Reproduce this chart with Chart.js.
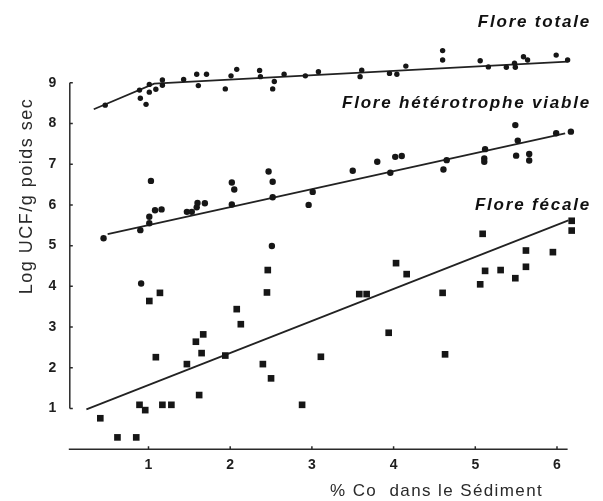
<!DOCTYPE html>
<html><head><meta charset="utf-8">
<script src="https://cdn.jsdelivr.net/npm/chart.js@4"></script>
<style>html,body{margin:0;padding:0;background:#fff}canvas{display:block}</style>
</head><body>
<canvas id="c" width="603" height="501"></canvas>
<script>
// ---- Data ----
const totaleX = [0.47,0.89,0.90,0.97,1.01,1.01,1.09,1.17,1.17,1.43,1.59,1.61,1.71,1.94,2.01,2.08,2.36,2.37,2.52,2.54,2.66,2.92,3.08,3.61,3.59,3.95,4.04,4.15,4.60,4.60,5.06,5.16,5.38,5.48,5.49,5.59,5.64,5.99,6.13];
const totaleY = [8.45,8.82,8.62,8.47,8.96,8.77,8.84,9.07,8.94,9.08,9.21,8.93,9.21,8.85,9.17,9.33,9.30,9.15,8.85,9.03,9.21,9.17,9.27,9.31,9.15,9.23,9.21,9.41,9.79,9.56,9.54,9.39,9.38,9.48,9.38,9.64,9.56,9.68,9.56];

const hetX = [0.45,0.90,1.01,1.01,1.03,1.08,1.16,1.47,1.53,1.59,1.60,1.69,2.02,2.02,2.05,2.47,2.52,2.52,2.51,3.01,2.96,0.91,3.50,3.80,3.96,4.02,4.10,4.61,4.65,5.12,5.11,5.11,5.49,5.52,5.50,5.66,5.66,5.99,6.17];
const hetY = [5.18,5.38,5.55,5.71,6.59,5.87,5.89,5.83,5.83,5.94,6.05,6.04,6.01,6.55,6.38,6.82,6.57,6.19,4.99,6.32,6.00,4.07,6.84,7.06,6.79,7.18,7.20,6.87,7.10,7.37,7.14,7.06,7.96,7.58,7.21,7.25,7.09,7.76,7.80];

const fecX = [0.41,0.62,0.85,0.89,0.96,1.01,1.14,1.09,1.17,1.28,1.47,1.58,1.67,1.65,1.62,1.94,2.08,2.13,2.46,2.45,2.40,2.50,2.88,3.11,3.58,3.67,3.94,4.03,4.16,4.60,4.63,5.09,5.06,5.12,5.31,5.49,5.62,5.62,5.95,6.18,6.18];
const fecY = [0.76,0.29,0.29,1.09,0.96,3.64,3.84,2.26,1.09,1.09,2.09,2.64,2.82,2.36,1.33,2.30,3.44,3.07,4.40,3.85,2.09,1.74,1.09,2.27,3.81,3.81,2.86,4.57,4.30,3.84,2.33,5.29,4.05,4.38,4.40,4.20,4.88,4.48,4.84,5.61,5.37];

// regression lines (end points)
const totaleFitX = [0.33,1.07,6.13];
const totaleFitY = [8.35,8.98,9.52];
const hetFitX = [0.50,6.10];
const hetFitY = [5.28,7.76];
const fecFitX = [0.24,6.14];
const fecFitY = [0.98,5.62];

const xTicks = [1,2,3,4,5,6];
const yTicks = [1,2,3,4,5,6,7,8,9];
const xTitle = '% Co  dans le Sédiment';
const yTitle = 'Log UCF/g poids sec';
const seriesNames = ['Flore totale','Flore hétérotrophe viable','Flore fécale'];

const pts = (xs, ys) => xs.map((x, i) => ({x: x, y: ys[i]}));
const INK = '#161616';

const axesPlugin = {
  id: 'axesPlugin',
  beforeDatasetsDraw(chart) {
    const ctx = chart.ctx, xs = chart.scales.x, ys = chart.scales.y;
    ctx.save();
    ctx.strokeStyle = '#2a2a2a';
    ctx.lineWidth = 1.5;
    // y axis (from 1 to 9)
    const ax = xs.getPixelForValue(0) + 3;
    const yTop = ys.getPixelForValue(yTicks[yTicks.length-1]);
    const yBot = ys.getPixelForValue(yTicks[0]);
    ctx.beginPath();
    ctx.moveTo(ax, yTop); ctx.lineTo(ax, yBot);
    yTicks.forEach(v => { const p = ys.getPixelForValue(v); ctx.moveTo(ax, p); ctx.lineTo(ax + 3, p); });
    ctx.stroke();
    // x axis at y = 0
    const ay = ys.getPixelForValue(0);
    ctx.beginPath();
    ctx.moveTo(xs.getPixelForValue(0) + 2, ay);
    ctx.lineTo(xs.getPixelForValue(6.13), ay);
    xTicks.forEach(v => { const p = xs.getPixelForValue(v); ctx.moveTo(p, ay); ctx.lineTo(p, ay - 3); });
    ctx.stroke();

    // tick labels
    ctx.fillStyle = '#1e1e1e';
    ctx.font = 'bold 14px "Liberation Sans", Arial, sans-serif';
    ctx.textAlign = 'center';
    ctx.textBaseline = 'middle';
    yTicks.forEach(v => ctx.fillText(String(v), 52.5, ys.getPixelForValue(v)));
    xTicks.forEach(v => ctx.fillText(String(v), xs.getPixelForValue(v), ay + 16));

    // axis titles
    ctx.fillStyle = '#2a2a2a';
    ctx.font = '17px "Liberation Sans", Arial, sans-serif';
    ctx.letterSpacing = '1.4px';
    ctx.textAlign = 'left';
    ctx.textBaseline = 'alphabetic';
    ctx.fillText(xTitle, 330, 496);

    ctx.save();
    ctx.font = '18px "Liberation Sans", Arial, sans-serif';
    ctx.letterSpacing = '1.5px';
    ctx.translate(31.5, 196);
    ctx.rotate(-Math.PI / 2);
    ctx.textAlign = 'center';
    ctx.fillText(yTitle, 0, 0);
    ctx.restore();

    // series labels
    ctx.fillStyle = '#111';
    ctx.font = 'italic bold 17px "Liberation Sans", Arial, sans-serif';
    ctx.letterSpacing = '1.8px';
    ctx.textAlign = 'left';
    const baselines = [27, 108, 210];
    seriesNames.forEach((s, i) => {
      const w = ctx.measureText(s).width;
      ctx.fillText(s, 591 - w, baselines[i]);
    });
    ctx.restore();
  }
};

new Chart(document.getElementById('c'), {
  type: 'scatter',
  data: {
    datasets: [
      {label: seriesNames[0], data: pts(totaleX, totaleY), pointStyle: 'circle', pointRadius: 2.7, backgroundColor: INK, borderColor: INK, borderWidth: 0},
      {label: seriesNames[1], data: pts(hetX, hetY), pointStyle: 'circle', pointRadius: 3.2, backgroundColor: INK, borderColor: INK, borderWidth: 0},
      {label: seriesNames[2], data: pts(fecX, fecY), pointStyle: 'rect', pointRadius: 4.7, backgroundColor: INK, borderColor: INK, borderWidth: 0},
      {label: 'fit1', data: pts(totaleFitX, totaleFitY), showLine: true, pointRadius: 0, borderColor: '#222', borderWidth: 1.8, fill: false},
      {label: 'fit2', data: pts(hetFitX, hetFitY), showLine: true, pointRadius: 0, borderColor: '#222', borderWidth: 1.8, fill: false},
      {label: 'fit3', data: pts(fecFitX, fecFitY), showLine: true, pointRadius: 0, borderColor: '#222', borderWidth: 1.8, fill: false}
    ]
  },
  options: {
    responsive: false,
    animation: false,
    devicePixelRatio: 1,
    clip: false,
    layout: {padding: {left: 66.8, right: 21.5, top: 21.7, bottom: 51.8}},
    plugins: {legend: {display: false}, tooltip: {enabled: false}},
    scales: {
      x: {type: 'linear', min: 0, max: 6.3, display: false},
      y: {type: 'linear', min: 0, max: 10.5, display: false}
    }
  },
  plugins: [axesPlugin]
});
</script>
</body></html>
